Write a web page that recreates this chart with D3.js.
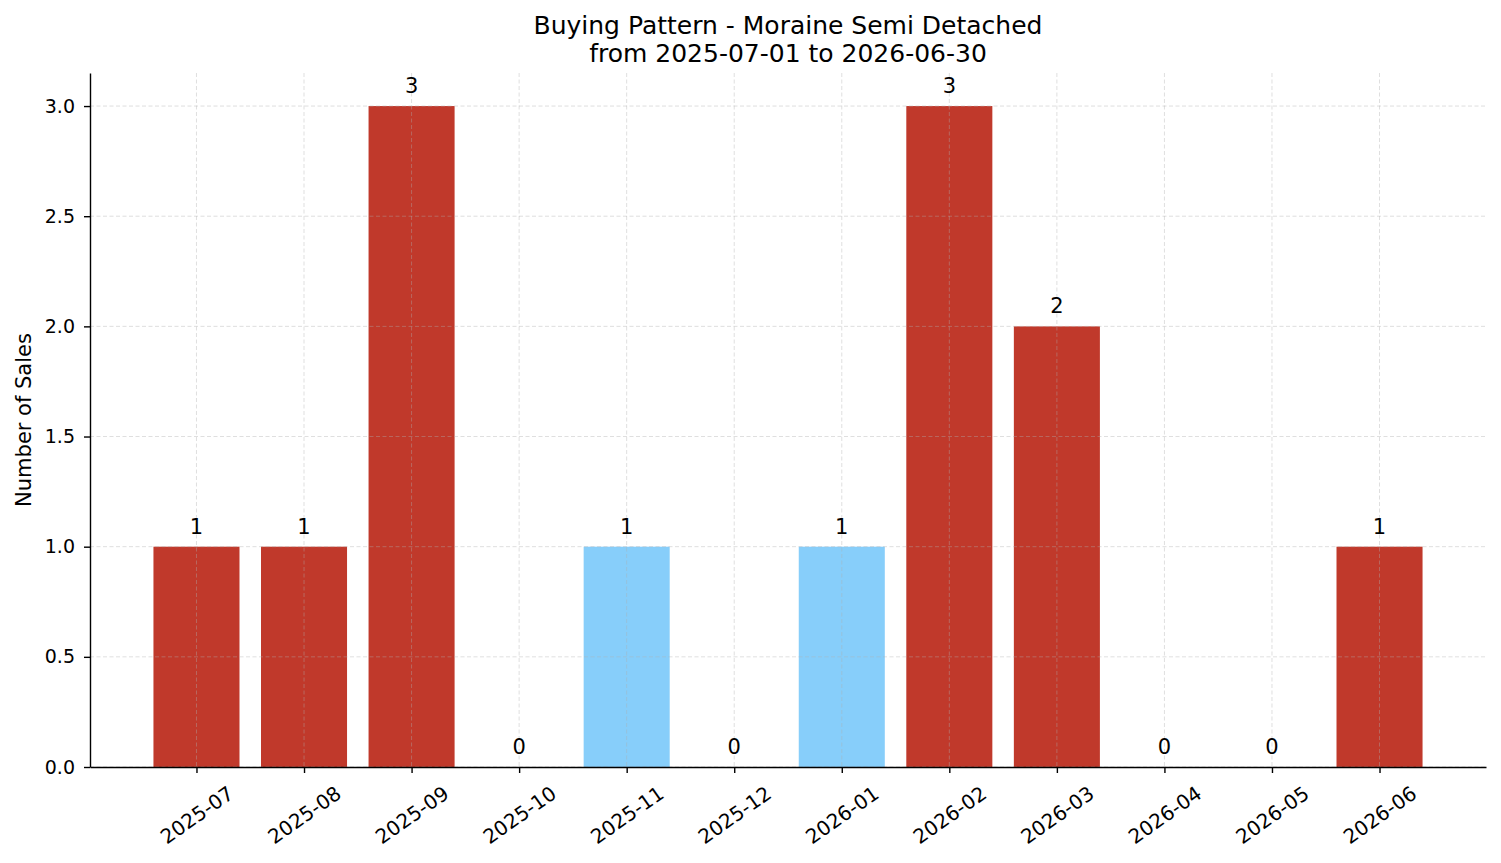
<!DOCTYPE html>
<html><head><meta charset="utf-8">
<script src="https://cdn.jsdelivr.net/npm/d3@7"></script>
<style>body{margin:0;background:#fff;} svg, svg text{font-family:"DejaVu Sans",sans-serif;}</style>
</head><body><svg id="c" width="1501" height="863"></svg>
<script>
const months = ["2025-07","2025-08","2025-09","2025-10","2025-11","2025-12","2026-01","2026-02","2026-03","2026-04","2026-05","2026-06"];
const sales = [1,1,3,0,1,0,1,3,2,0,0,1];
const highlight = [false,false,false,false,true,false,true,false,false,false,false,false];
const yTicks = [0,0.5,1.0,1.5,2.0,2.5,3.0];
const titleLines = ["Buying Pattern - Moraine Semi Detached","from 2025-07-01 to 2026-06-30"];
const yLabel = "Number of Sales";

const FONT = "DejaVu Sans";
const svg = d3.select("#c");
const L=90,R=1486,T=73,B=767;
const x = d3.scaleLinear().domain([-0.99,11.99]).range([L,R]);
const y = d3.scaleLinear().domain([0,3.15]).range([B,T]);
const bw = x(0.4)-x(-0.4);

// bars
svg.append("g").selectAll("rect").data(sales).join("rect")
  .attr("x",(d,i)=>x(i)-bw/2).attr("width",bw)
  .attr("y",d=>y(d)).attr("height",d=>y(0)-y(d))
  .attr("fill",(d,i)=>highlight[i]?"#87cefa":"#c0392b");

// grid
const g = svg.append("g").attr("stroke","#b0b0b0").attr("stroke-opacity",0.5).attr("stroke-width",0.8).attr("stroke-dasharray","4,2.5");
g.selectAll("line.h").data(yTicks).join("line").attr("x1",L).attr("x2",R).attr("y1",d=>y(d)).attr("y2",d=>y(d));
g.selectAll("line.v").data(months).join("line").attr("y1",T).attr("y2",B).attr("x1",(d,i)=>x(i)).attr("x2",(d,i)=>x(i));

// value labels
svg.append("g").selectAll("text").data(sales).join("text")
  .attr("x",(d,i)=>x(i)).attr("y",d=>y(d)-13).attr("text-anchor","middle")
  .attr("font-family",FONT).attr("font-size",21).attr("fill","#000").text(d=>d);

// axes
const xa = svg.append("g").attr("transform",`translate(0,${B})`)
  .call(d3.axisBottom(x).tickValues(d3.range(12)).tickFormat(i=>months[i]).tickSize(6).tickSizeOuter(0));
xa.attr("font-family",FONT);
xa.select(".domain").attr("stroke","#000").attr("stroke-width",1.4);
xa.selectAll(".tick line").attr("stroke","#000").attr("stroke-width",1.4);
xa.selectAll(".tick text").attr("font-size",20).attr("fill","#000")
  .attr("text-anchor","middle").attr("y",0).attr("dy","0.35em")
  .attr("transform","translate(0,48) rotate(-35)");

const ya = svg.append("g").attr("transform",`translate(${L},0)`)
  .call(d3.axisLeft(y).tickValues(yTicks).tickFormat(d3.format(".1f")).tickSize(6).tickSizeOuter(0));
ya.attr("font-family",FONT);
ya.select(".domain").attr("stroke","#000").attr("stroke-width",1.4);
ya.selectAll(".tick line").attr("stroke","#000").attr("stroke-width",1.4);
ya.selectAll(".tick text").attr("font-size",19).attr("fill","#000").attr("x",-15);

// title
svg.append("g").selectAll("text").data(titleLines).join("text")
  .attr("x",(L+R)/2).attr("y",(d,i)=>34+i*28).attr("text-anchor","middle")
  .attr("font-family",FONT).attr("font-size",25).attr("fill","#000").text(d=>d);

svg.append("text").attr("transform",`translate(31,${(T+B)/2}) rotate(-90)`)
  .attr("text-anchor","middle").attr("font-family",FONT).attr("font-size",21).attr("fill","#000").text(yLabel);
</script></body></html>
